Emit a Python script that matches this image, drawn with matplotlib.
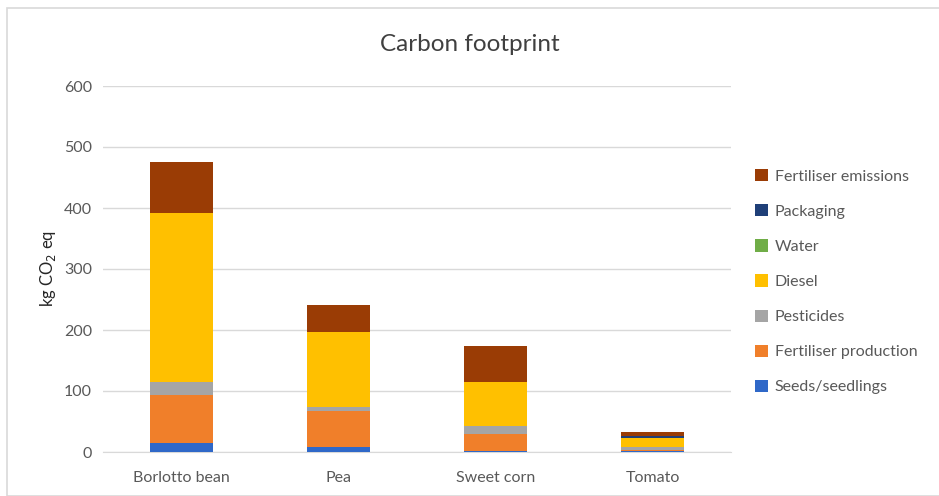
import matplotlib.pyplot as plt
import numpy as np

plt.rcParams['font.family'] = ['Lato', 'DejaVu Sans']

crops = ['Borlotto bean', 'Pea', 'Sweet corn', 'Tomato']
sources = ['Seeds/seedlings', 'Fertiliser production', 'Pesticides', 'Diesel',
           'Water', 'Packaging', 'Fertiliser emissions']
colors = ['#2F68C8', '#F07F2A', '#A5A5A5', '#FFC000', '#70AD47', '#1F3F78', '#9A3C05']

# kg CO2 eq per source, one list per crop column
seeds = [14, 8, 1, 1]
fert_prod = [79, 60, 28, 3]
pesticides = [21, 6, 14, 4]
diesel = [278, 122, 72, 15]
water = [0, 0, 0, 0]
packaging = [0, 0, 0, 3]
fert_emis = [83, 45, 59, 7]
values = [seeds, fert_prod, pesticides, diesel, water, packaging, fert_emis]

grey = '#595959'
fig = plt.figure(figsize=(9.39, 4.96), dpi=100)
ax = fig.add_axes([103 / 939, 44 / 496, 628 / 939, 366 / 496])

x = np.arange(len(crops))
bottom = np.zeros(len(crops))
handles = []
for name, vals, c in zip(sources, values, colors):
    b = ax.bar(x, vals, 0.4, bottom=bottom, color=c, label=name, zorder=3)
    handles.append(b)
    bottom += np.array(vals)

ax.set_ylim(0, 600)
ax.set_xlim(-0.5, len(crops) - 0.5)
ax.set_yticks(range(0, 601, 100))
ax.set_xticks(x)
ax.set_xticklabels(crops)
ax.yaxis.grid(True, color='#D9D9D9', linewidth=1, zorder=0)
for s in ['top', 'right', 'left']:
    ax.spines[s].set_visible(False)
ax.spines['bottom'].set_color('#D9D9D9')
ax.tick_params(length=0, colors=grey, labelsize=11.5, pad=8)
ax.tick_params(axis='x', pad=14)
ax.set_ylabel('kg CO$_2$ eq', color='#262626', fontsize=12, labelpad=4)

fig.text(0.5, 0.91, 'Carbon footprint', ha='center', va='center', fontsize=17.5, color='#404040')

leg = ax.legend(handles[::-1], sources[::-1], loc='center left',
                bbox_to_anchor=(1.015, 0.465), frameon=False, fontsize=11.5,
                labelspacing=1.28, handlelength=0.8, handleheight=0.8, handletextpad=0.45)
for t in leg.get_texts():
    t.set_color(grey)

# outer chart border
fig.patches.append(plt.Rectangle((7 / 939, 0), 1, 1 - 8 / 496, transform=fig.transFigure,
                                 fill=False, edgecolor='#D9D9D9', linewidth=1.2))

fig.savefig('out.png', dpi=100)
